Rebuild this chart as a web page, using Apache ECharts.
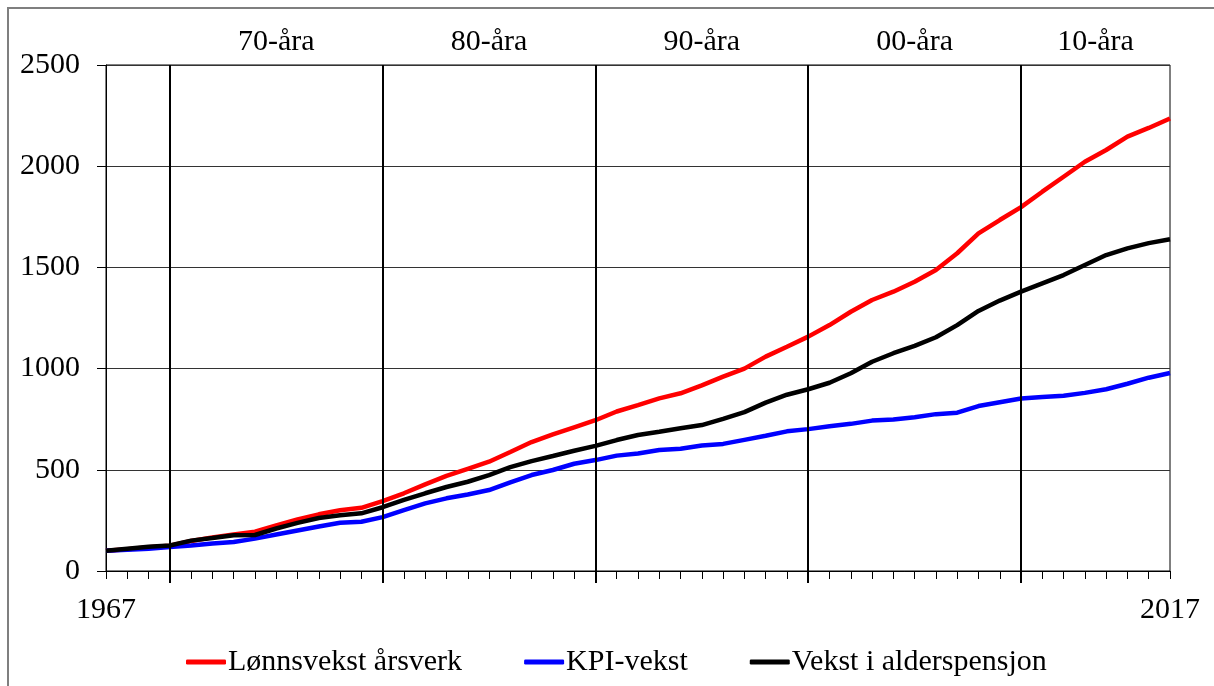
<!DOCTYPE html>
<html>
<head>
<meta charset="utf-8">
<script src="https://cdn.jsdelivr.net/npm/echarts@6/dist/echarts.min.js"></script>
<style>
  html, body { margin: 0; padding: 0; background: #fff; }
  #main { width: 1214px; height: 686px; }
</style>
</head>
<body>
<div id="main"></div>
<script>
// år 1967 - 2017, indeks 1967 = 100
var firstYear = 1967;
var lastYear = 2017;
var years = [];
for (var y = firstYear; y <= lastYear; y++) years.push(y);

var lonn = [100, 108, 117, 125, 148, 166, 181, 194, 225, 255,
  280, 300, 312, 345, 384, 428, 470, 505, 540, 588,
  637, 675, 710, 745, 788, 820, 853, 878, 917, 960,
  1000, 1059, 1108, 1158, 1215, 1281, 1339, 1380, 1429, 1487,
  1570, 1668, 1734, 1798, 1874, 1948, 2022, 2080, 2146, 2189,
  2236];

var kpi = [100, 105, 110, 118, 126, 136, 143, 160, 180, 200,
  220, 238, 243, 266, 301, 334, 359, 378, 400, 438,
  474, 499, 530, 548, 570, 581, 598, 604, 620, 628,
  648, 668, 690, 701, 715, 727, 743, 749, 760, 775,
  782, 815, 834, 852, 860, 866, 880, 898, 925, 955,
  978];

var pensjon = [100, 110, 120, 126, 150, 163, 177, 178, 210, 238,
  262, 275, 285, 315, 351, 384, 415, 441, 474, 513,
  543, 568, 594, 618, 647, 672, 688, 705, 721, 752,
  785, 832, 871, 898, 930, 977, 1034, 1076, 1112, 1155,
  1215, 1285, 1336, 1380, 1421, 1462, 1512, 1561, 1594, 1620,
  1639];

var decades = [1970, 1980, 1990, 2000, 2010];
var decadeLabels = ['70-åra', '80-åra', '90-åra', '00-åra', '10-åra'];
var decadeCenters = [1975, 1985, 1995, 2005, 2013.5];
var yTicks = [0, 500, 1000, 1500, 2000, 2500];

var font = 'Liberation Serif, Times New Roman, serif';

function pairs(vals) {
  return years.map(function (yr, i) { return [yr, vals[i]]; });
}

// ingen tusenskille
function plain(v) { return String(v); }

var chart = echarts.init(document.getElementById('main'));

var option = {
  animation: false,
  textStyle: { fontFamily: font, color: '#000' },
  graphic: [{
    type: 'rect',
    shape: { x: 8, y: 8, width: 1400, height: 1000 },
    style: { fill: 'none', stroke: '#7f7f7f', lineWidth: 2 },
    silent: true
  }],
  grid: {
    left: 106, right: 44, top: 65, bottom: 115,
    show: true, borderColor: '#000', borderWidth: 1
  },
  legend: {
    top: 642, left: 181,
    itemWidth: 40, itemHeight: 5, itemGap: 62,
    icon: 'roundRect',
    textStyle: { fontFamily: font, fontSize: 30, color: '#000', padding: [0, 0, 0, -3] },
    data: ['Lønnsvekst årsverk', 'KPI-vekst', 'Vekst i alderspensjon']
  },
  xAxis: [{
    type: 'value', min: firstYear, max: lastYear, interval: 1,
    axisLine: { lineStyle: { color: '#000', width: 1 } },
    axisTick: { show: true, length: 8, inside: false, lineStyle: { color: '#000' } },
    axisLabel: {
      customValues: [firstYear, lastYear], formatter: plain,
      fontFamily: font, fontSize: 30, color: '#000', margin: 24
    },
    splitLine: { show: false }
  }, {
    type: 'value', min: firstYear, max: lastYear, position: 'bottom',
    axisLine: { show: false },
    axisTick: { show: true, customValues: decades, length: 12, lineStyle: { color: '#000', width: 2 } },
    axisLabel: { show: false },
    splitLine: { show: false }
  }, {
    type: 'value', min: firstYear, max: lastYear, position: 'top',
    axisLine: { show: false },
    axisTick: { show: false },
    axisLabel: {
      customValues: decadeCenters,
      formatter: function (v) { return decadeLabels[decadeCenters.indexOf(v)]; },
      fontFamily: font, fontSize: 30, color: '#000', margin: 8
    },
    splitLine: { show: false }
  }],
  yAxis: {
    type: 'value', min: yTicks[0], max: yTicks[yTicks.length - 1], interval: 500,
    axisLine: { show: true, lineStyle: { color: '#000' } },
    axisTick: { show: true, length: 9, lineStyle: { color: '#000' } },
    axisLabel: { formatter: plain, fontFamily: font, fontSize: 30, color: '#000', margin: 26 },
    splitLine: { show: true, lineStyle: { color: '#333', width: 1 } }
  },
  series: [{
    name: 'Lønnsvekst årsverk', type: 'line', xAxisIndex: 0,
    data: pairs(lonn), symbol: 'none',
    lineStyle: { color: '#ff0000', width: 4.5 }, itemStyle: { color: '#ff0000' }
  }, {
    name: 'KPI-vekst', type: 'line', xAxisIndex: 0,
    data: pairs(kpi), symbol: 'none',
    lineStyle: { color: '#0000ff', width: 4.5 }, itemStyle: { color: '#0000ff' }
  }, {
    name: 'Vekst i alderspensjon', type: 'line', xAxisIndex: 0,
    data: pairs(pensjon), symbol: 'none',
    lineStyle: { color: '#000', width: 4.5 }, itemStyle: { color: '#000' },
    markLine: {
      silent: true, symbol: ['none', 'none'],
      label: { show: false },
      lineStyle: { color: '#000', width: 2, type: 'solid' },
      data: decades.map(function (d) { return { xAxis: d }; })
    }
  }]
};

chart.setOption(option);
</script>
</body>
</html>
